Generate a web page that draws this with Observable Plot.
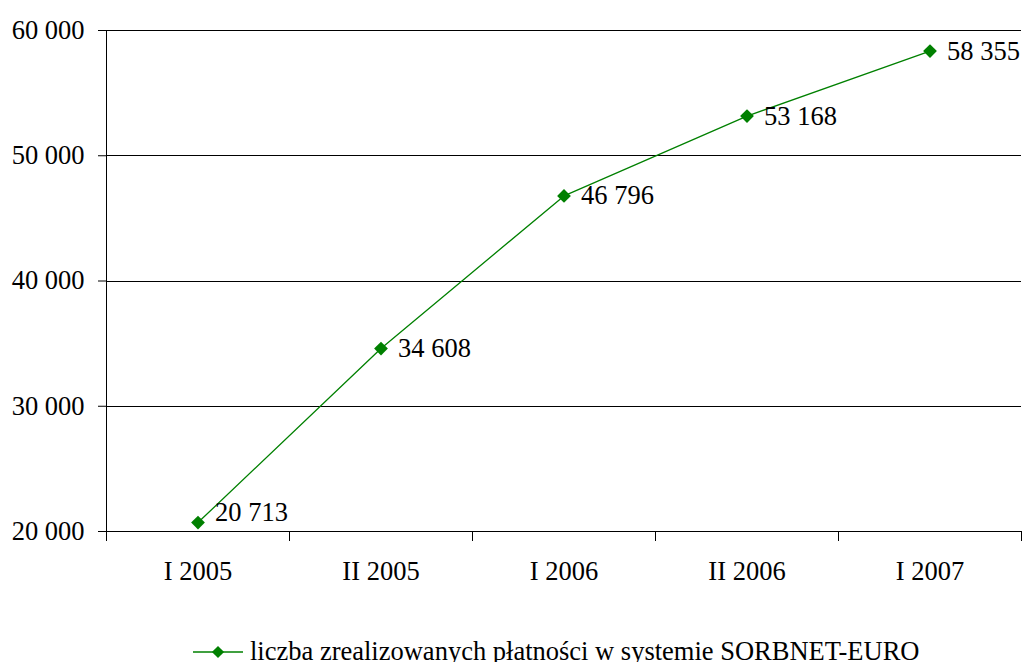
<!DOCTYPE html>
<html>
<head>
<meta charset="utf-8">
<script src="https://cdn.jsdelivr.net/npm/d3@7"></script>
<script src="https://cdn.jsdelivr.net/npm/@observablehq/plot@0.6"></script>
<style>
  html, body { margin: 0; padding: 0; background: #fff; }
  #wrap { position: relative; width: 1022px; height: 662px; overflow: hidden; font-family: "Liberation Serif", "Times New Roman", serif; }
  #legend { position: absolute; left: 0; top: 600px; width: 1022px; height: 62px; }
  #legend svg { position: absolute; left: 190px; top: 42px; }
  #legend span { position: absolute; left: 250px; top: 38px; font-size: 26.5px; color: #000; white-space: nowrap; line-height: 26px; }
  #chart svg line, #chart svg path[stroke] { shape-rendering: crispEdges; }
</style>
</head>
<body>
<div id="wrap">
  <div id="chart"></div>
  <div id="legend"></div>
</div>
<script>
// Half-year periods and number of payments settled in SORBNET-EURO
const periods = ["I 2005", "II 2005", "I 2006", "II 2006", "I 2007"];
const payments = [20713, 34608, 46796, 53168, 58355];
const yTicks = [20000, 30000, 40000, 50000, 60000];
const seriesName = "liczba zrealizowanych płatności w systemie SORBNET-EURO";

const green = "#008000";
const fmt = d => d3.format(",")(d).replace(/,/g, " ");

const rows = periods.map((p, i) => ({ period: p, pos: i + 0.5, value: payments[i], first: i === 0 }));
const bandEdges = d3.range(periods.length + 1);
const bandCenters = periods.map((_, i) => i + 0.5);

const chart = Plot.plot({
  width: 1022,
  height: 600,
  marginLeft: 106,
  marginRight: 1,
  marginTop: 30,
  marginBottom: 69,
  style: { fontFamily: "Liberation Serif, Times New Roman, serif", fontSize: "26.5px", color: "#000", background: "#fff" },
  x: { type: "linear", domain: [0, periods.length], label: null },
  y: { domain: [20000, 60000], label: null },
  marks: [
    // horizontal gridlines (the lowest one doubles as the x axis line)
    Plot.ruleY(yTicks, { stroke: "#000", strokeWidth: 1 }),
    // vertical axis line
    Plot.ruleX([0], { y1: 20000, y2: 60000, stroke: "#000", strokeWidth: 1 }),
    Plot.axisY({ ticks: yTicks, tickSize: 8, tickPadding: 14, tickFormat: fmt, strokeOpacity: 1, label: null }),
    // category separators below the x axis
    Plot.axisX({ ticks: bandEdges, tickSize: 10, tickFormat: () => "", strokeOpacity: 1, label: null }),
    // category labels
    Plot.axisX({ ticks: bandCenters, tickSize: 0, tickPadding: 30, tickFormat: d => periods[Math.floor(d)], label: null }),
    Plot.line(rows, { x: "pos", y: "value", stroke: green, strokeWidth: 1.3 }),
    Plot.dot(rows, { x: "pos", y: "value", symbol: "square", rotate: 45, r: 5.5, fill: green, stroke: "none" }),
    Plot.text(rows.filter(d => !d.first), { x: "pos", y: "value", text: d => fmt(d.value), textAnchor: "start", dx: 17, fill: "#000" }),
    Plot.text(rows.filter(d => d.first), { x: "pos", y: "value", text: d => fmt(d.value), textAnchor: "start", dx: 17, dy: -10, fill: "#000" })
  ]
});
document.getElementById("chart").appendChild(chart);

// legend: line with a diamond marker, followed by the series name
const legend = d3.select("#legend");
const sw = legend.append("svg").attr("width", 56).attr("height", 20);
sw.append("line").attr("x1", 3).attr("x2", 53).attr("y1", 10).attr("y2", 10)
  .attr("stroke", green).attr("stroke-width", 1.3);
sw.append("rect").attr("x", -4.3).attr("y", -4.3).attr("width", 8.6).attr("height", 8.6)
  .attr("fill", green).attr("transform", "translate(28,10) rotate(45)");
legend.append("span").text(seriesName);
</script>
</body>
</html>
